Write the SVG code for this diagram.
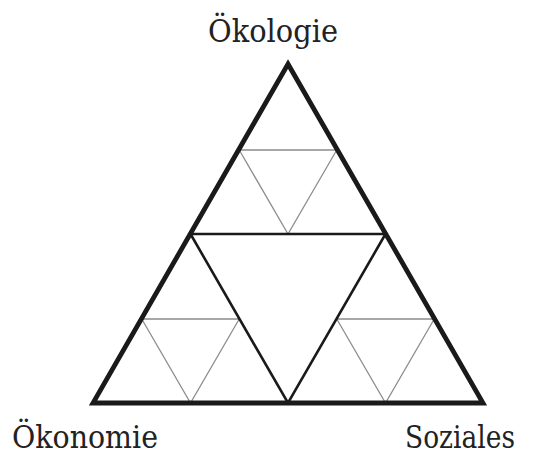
<svg xmlns="http://www.w3.org/2000/svg" width="553" height="456" viewBox="0 0 553 456">
<style>
.lbl{font-family:"DejaVu Serif",serif;font-size:31px;fill:#222}
.outer{fill:none;stroke:#1a1a1a;stroke-width:4.8;stroke-linejoin:miter}
.mid{fill:none;stroke:#1a1a1a;stroke-width:2.6}
.thin{fill:none;stroke:#8c8c8c;stroke-width:1.3}
</style>
<rect width="553" height="456" fill="#fff"/>
<g id="connectors">
<polygon class="thin" points="239.25,150 336.75,150 288,234"/>
<polygon class="thin" points="141.75,319 239.25,319 190.5,403"/>
<polygon class="thin" points="336.75,319 434.25,319 385.5,403"/>
<polygon class="mid" points="190.5,234 385.5,234 288,403"/>
<polygon class="outer" points="288,64 483,403 93,403"/>
</g>
<g id="oekologie"><text class="lbl" x="208" y="42" textLength="130" lengthAdjust="spacingAndGlyphs">Ökologie</text></g>
<g id="oekonomie"><text class="lbl" x="12" y="448" textLength="146" lengthAdjust="spacingAndGlyphs">Ökonomie</text></g>
<g id="soziales"><text class="lbl" x="405" y="448" textLength="110" lengthAdjust="spacingAndGlyphs">Soziales</text></g>
</svg>
